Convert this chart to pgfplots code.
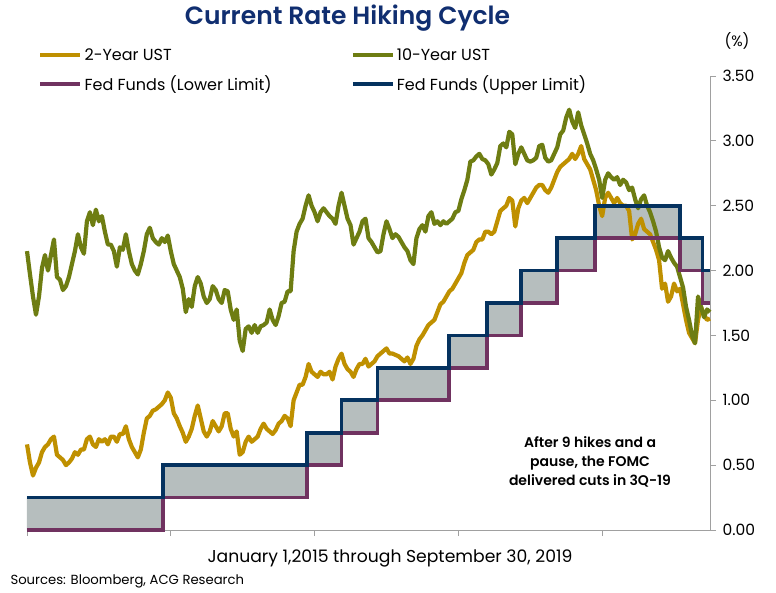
\documentclass[border=0pt]{standalone}
\usepackage{fontspec}
\setmainfont{Poppins}
\newfontfamily\semib{Poppins SemiBold}
\usepackage{pgfplots}
\usepackage{pgfplotstable}
\pgfplotsset{compat=1.18}
\usepgfplotslibrary{fillbetween}

\definecolor{twoy}{RGB}{191,144,0}
\definecolor{teny}{RGB}{110,125,18}
\definecolor{fedlow}{RGB}{112,50,96}
\definecolor{fedup}{RGB}{5,50,95}
\definecolor{fedfill}{RGB}{182,190,190}
\definecolor{axgray}{RGB}{160,160,160}
\definecolor{titleblue}{RGB}{16,46,112}

% weekly-ish readings, 4 per month, Jan 2015 .. Sep 2019 (x = week index)
\pgfplotstableread[row sep=\\]{
y\\
2.15\\ 1.97\\ 1.80\\ 1.66\\
1.80\\ 2.02\\ 2.12\\ 2.00\\
2.12\\ 2.24\\ 1.95\\ 1.93\\
1.85\\ 1.88\\ 1.95\\ 2.05\\
2.15\\ 2.28\\ 2.18\\ 2.13\\
2.38\\ 2.45\\ 2.35\\ 2.47\\
2.38\\ 2.42\\ 2.30\\ 2.20\\
2.20\\ 2.15\\ 2.03\\ 2.18\\
2.16\\ 2.28\\ 2.15\\ 2.05\\
2.00\\ 1.97\\ 2.05\\ 2.15\\
2.28\\ 2.33\\ 2.25\\ 2.22\\
2.20\\ 2.25\\ 2.22\\ 2.27\\
2.15\\ 2.05\\ 2.00\\ 1.95\\
1.86\\ 1.68\\ 1.78\\ 1.72\\
1.88\\ 1.95\\ 1.90\\ 1.80\\
1.75\\ 1.78\\ 1.88\\ 1.85\\
1.78\\ 1.75\\ 1.85\\ 1.84\\
1.70\\ 1.62\\ 1.70\\ 1.46\\
1.38\\ 1.55\\ 1.57\\ 1.52\\
1.58\\ 1.52\\ 1.57\\ 1.58\\
1.60\\ 1.70\\ 1.62\\ 1.58\\
1.65\\ 1.75\\ 1.76\\ 1.84\\
1.84\\ 2.15\\ 2.30\\ 2.36\\
2.40\\ 2.50\\ 2.58\\ 2.50\\
2.45\\ 2.38\\ 2.45\\ 2.48\\
2.45\\ 2.42\\ 2.40\\ 2.36\\
2.50\\ 2.60\\ 2.50\\ 2.40\\
2.35\\ 2.20\\ 2.25\\ 2.30\\
2.38\\ 2.40\\ 2.25\\ 2.22\\
2.18\\ 2.14\\ 2.15\\ 2.28\\
2.38\\ 2.32\\ 2.25\\ 2.28\\
2.26\\ 2.22\\ 2.18\\ 2.15\\
2.08\\ 2.05\\ 2.25\\ 2.32\\
2.35\\ 2.30\\ 2.42\\ 2.45\\
2.36\\ 2.38\\ 2.35\\ 2.38\\
2.36\\ 2.38\\ 2.40\\ 2.45\\
2.46\\ 2.55\\ 2.62\\ 2.70\\
2.84\\ 2.85\\ 2.88\\ 2.90\\
2.86\\ 2.85\\ 2.82\\ 2.74\\
2.78\\ 2.83\\ 2.96\\ 2.98\\
2.95\\ 3.07\\ 3.05\\ 2.82\\
2.90\\ 2.95\\ 2.90\\ 2.85\\
2.84\\ 2.85\\ 2.87\\ 2.96\\
2.97\\ 2.87\\ 2.84\\ 2.85\\
2.90\\ 2.95\\ 3.05\\ 3.08\\
3.18\\ 3.24\\ 3.15\\ 3.10\\
3.22\\ 3.12\\ 3.05\\ 2.98\\
2.90\\ 2.85\\ 2.78\\ 2.70\\
2.56\\ 2.70\\ 2.75\\ 2.72\\
2.70\\ 2.72\\ 2.66\\ 2.70\\
2.68\\ 2.62\\ 2.64\\ 2.55\\
2.48\\ 2.55\\ 2.58\\ 2.50\\
2.45\\ 2.38\\ 2.30\\ 2.18\\
2.10\\ 2.08\\ 2.15\\ 2.10\\
2.06\\ 2.03\\ 1.95\\ 1.87\\
1.72\\ 1.62\\ 1.50\\ 1.44\\
1.80\\ 1.72\\ 1.64\\ 1.70\\
1.68\\
}\tenyear

\pgfplotstableread[row sep=\\]{
y\\
0.66\\ 0.52\\ 0.42\\ 0.48\\
0.52\\ 0.60\\ 0.64\\ 0.66\\
0.70\\ 0.72\\ 0.58\\ 0.56\\
0.54\\ 0.50\\ 0.52\\ 0.55\\
0.60\\ 0.58\\ 0.62\\ 0.62\\
0.70\\ 0.72\\ 0.66\\ 0.64\\
0.70\\ 0.68\\ 0.70\\ 0.66\\
0.72\\ 0.72\\ 0.68\\ 0.74\\
0.74\\ 0.80\\ 0.70\\ 0.64\\
0.60\\ 0.56\\ 0.62\\ 0.75\\
0.86\\ 0.88\\ 0.92\\ 0.93\\
0.95\\ 0.97\\ 1.00\\ 1.06\\
1.02\\ 0.90\\ 0.86\\ 0.80\\
0.75\\ 0.68\\ 0.72\\ 0.78\\
0.88\\ 0.96\\ 0.86\\ 0.76\\
0.72\\ 0.76\\ 0.84\\ 0.80\\
0.76\\ 0.80\\ 0.90\\ 0.90\\
0.78\\ 0.72\\ 0.76\\ 0.58\\
0.60\\ 0.68\\ 0.72\\ 0.68\\
0.70\\ 0.72\\ 0.78\\ 0.82\\
0.78\\ 0.76\\ 0.74\\ 0.77\\
0.82\\ 0.84\\ 0.88\\ 0.86\\
0.80\\ 1.00\\ 1.06\\ 1.12\\
1.12\\ 1.18\\ 1.28\\ 1.22\\
1.20\\ 1.18\\ 1.22\\ 1.20\\
1.20\\ 1.22\\ 1.16\\ 1.26\\
1.32\\ 1.36\\ 1.28\\ 1.24\\
1.22\\ 1.18\\ 1.24\\ 1.28\\
1.28\\ 1.32\\ 1.26\\ 1.28\\
1.30\\ 1.34\\ 1.36\\ 1.38\\
1.40\\ 1.36\\ 1.36\\ 1.35\\
1.34\\ 1.32\\ 1.30\\ 1.33\\
1.28\\ 1.32\\ 1.42\\ 1.47\\
1.50\\ 1.54\\ 1.58\\ 1.60\\
1.62\\ 1.68\\ 1.74\\ 1.76\\
1.80\\ 1.84\\ 1.86\\ 1.90\\
1.94\\ 1.98\\ 2.06\\ 2.12\\
2.14\\ 2.16\\ 2.22\\ 2.24\\
2.24\\ 2.30\\ 2.30\\ 2.28\\
2.30\\ 2.38\\ 2.46\\ 2.48\\
2.50\\ 2.56\\ 2.54\\ 2.34\\
2.48\\ 2.54\\ 2.56\\ 2.52\\
2.56\\ 2.60\\ 2.64\\ 2.66\\
2.66\\ 2.62\\ 2.60\\ 2.64\\
2.70\\ 2.76\\ 2.80\\ 2.82\\
2.84\\ 2.86\\ 2.90\\ 2.86\\
2.90\\ 2.96\\ 2.86\\ 2.82\\
2.78\\ 2.70\\ 2.62\\ 2.50\\
2.42\\ 2.56\\ 2.60\\ 2.56\\
2.52\\ 2.56\\ 2.52\\ 2.50\\
2.50\\ 2.46\\ 2.24\\ 2.28\\
2.36\\ 2.40\\ 2.32\\ 2.30\\
2.28\\ 2.22\\ 2.16\\ 2.08\\
1.86\\ 1.90\\ 1.76\\ 1.80\\
1.90\\ 1.84\\ 1.86\\ 1.74\\
1.62\\ 1.52\\ 1.48\\ 1.44\\
1.62\\ 1.72\\ 1.66\\ 1.62\\
1.63\\
}\twoyear

\begin{document}
\begin{tikzpicture}
\begin{axis}[
  scale only axis, width=683pt, height=454pt,
  xmin=0, xmax=228, ymin=0, ymax=3.5,
  clip=false,
  axis x line*=bottom, axis y line*=right,
  axis line style={draw=axgray, line width=0.8pt},
  xtick={0,48,96,144,192}, xticklabels={},
  ytick={0,0.5,1,1.5,2,2.5,3,3.5},
  tick align=outside, major tick length=6pt,
  tick style={draw=axgray, line width=0.8pt},
  /pgf/number format/assume math mode=true,
  yticklabel style={font=\fontsize{15.5}{17}\selectfont, /pgf/number format/fixed,
    /pgf/number format/fixed zerofill, /pgf/number format/precision=2},
  yticklabel shift=3pt,
  legend columns=2,
  legend cell align=left,
  legend image code/.code={\draw[#1] (0pt,0pt) -- (40pt,0pt);},
  legend style={draw=none, fill=none, at={(0.012,1.07)}, anchor=north west,
    font=\fontsize{16}{18}\selectfont, row sep=10pt,
    nodes={inner xsep=2pt},
    /tikz/every even column/.append style={column sep=77pt}},
]
\addplot[twoy, line width=4.2pt, line join=round] table[x expr=\coordindex, y=y] {\twoyear};
\addlegendentry{2-Year UST}
\addplot[teny, line width=4.2pt, line join=round] table[x expr=\coordindex, y=y] {\tenyear};
\addlegendentry{10-Year UST}
\addplot[fedlow, line width=3.8pt, const plot, name path=low] coordinates {
  (0,0) (45.5,0.25) (93.5,0.5) (105,0.75) (117,1.0) (141,1.25) (153.5,1.5)
  (165,1.75) (177,2.0) (189.5,2.25) (218,2.0) (225.5,1.75) (228,1.75)};
\addlegendentry{Fed Funds (Lower Limit)}
\addplot[fedup, line width=3.8pt, const plot, name path=up] coordinates {
  (0,0.25) (45.5,0.5) (93.5,0.75) (105,1.0) (117,1.25) (141,1.5) (153.5,1.75)
  (165,2.0) (177,2.25) (189.5,2.5) (218,2.25) (225.5,2.0) (228,2.0)};
\addlegendentry{Fed Funds (Upper Limit)}
\addplot[fedfill, draw=none, forget plot] fill between[of=up and low];
\end{axis}
\node[font=\fontsize{25}{28}\selectfont\semib, text=titleblue] at (320.5pt,512pt) {Current Rate Hiking Cycle};
\node[font=\fontsize{15}{17}\selectfont] at (710pt,489pt) {(\%)};
\node[font=\fontsize{17.2}{19}\selectfont] at (363pt,-28pt) {January 1,2015 through September 30, 2019};
\node[font=\fontsize{13.2}{15}\selectfont, anchor=west] at (-20pt,-51pt) {Sources: Bloomberg, ACG Research};
\node[align=center, font=\fontsize{14}{19}\selectfont\semib] at (563pt,68pt) {After 9 hikes and a\\pause, the FOMC\\delivered cuts in 3Q-19};
\path (-27pt,-62pt) rectangle (749pt,530pt);
\end{tikzpicture}
\end{document}
